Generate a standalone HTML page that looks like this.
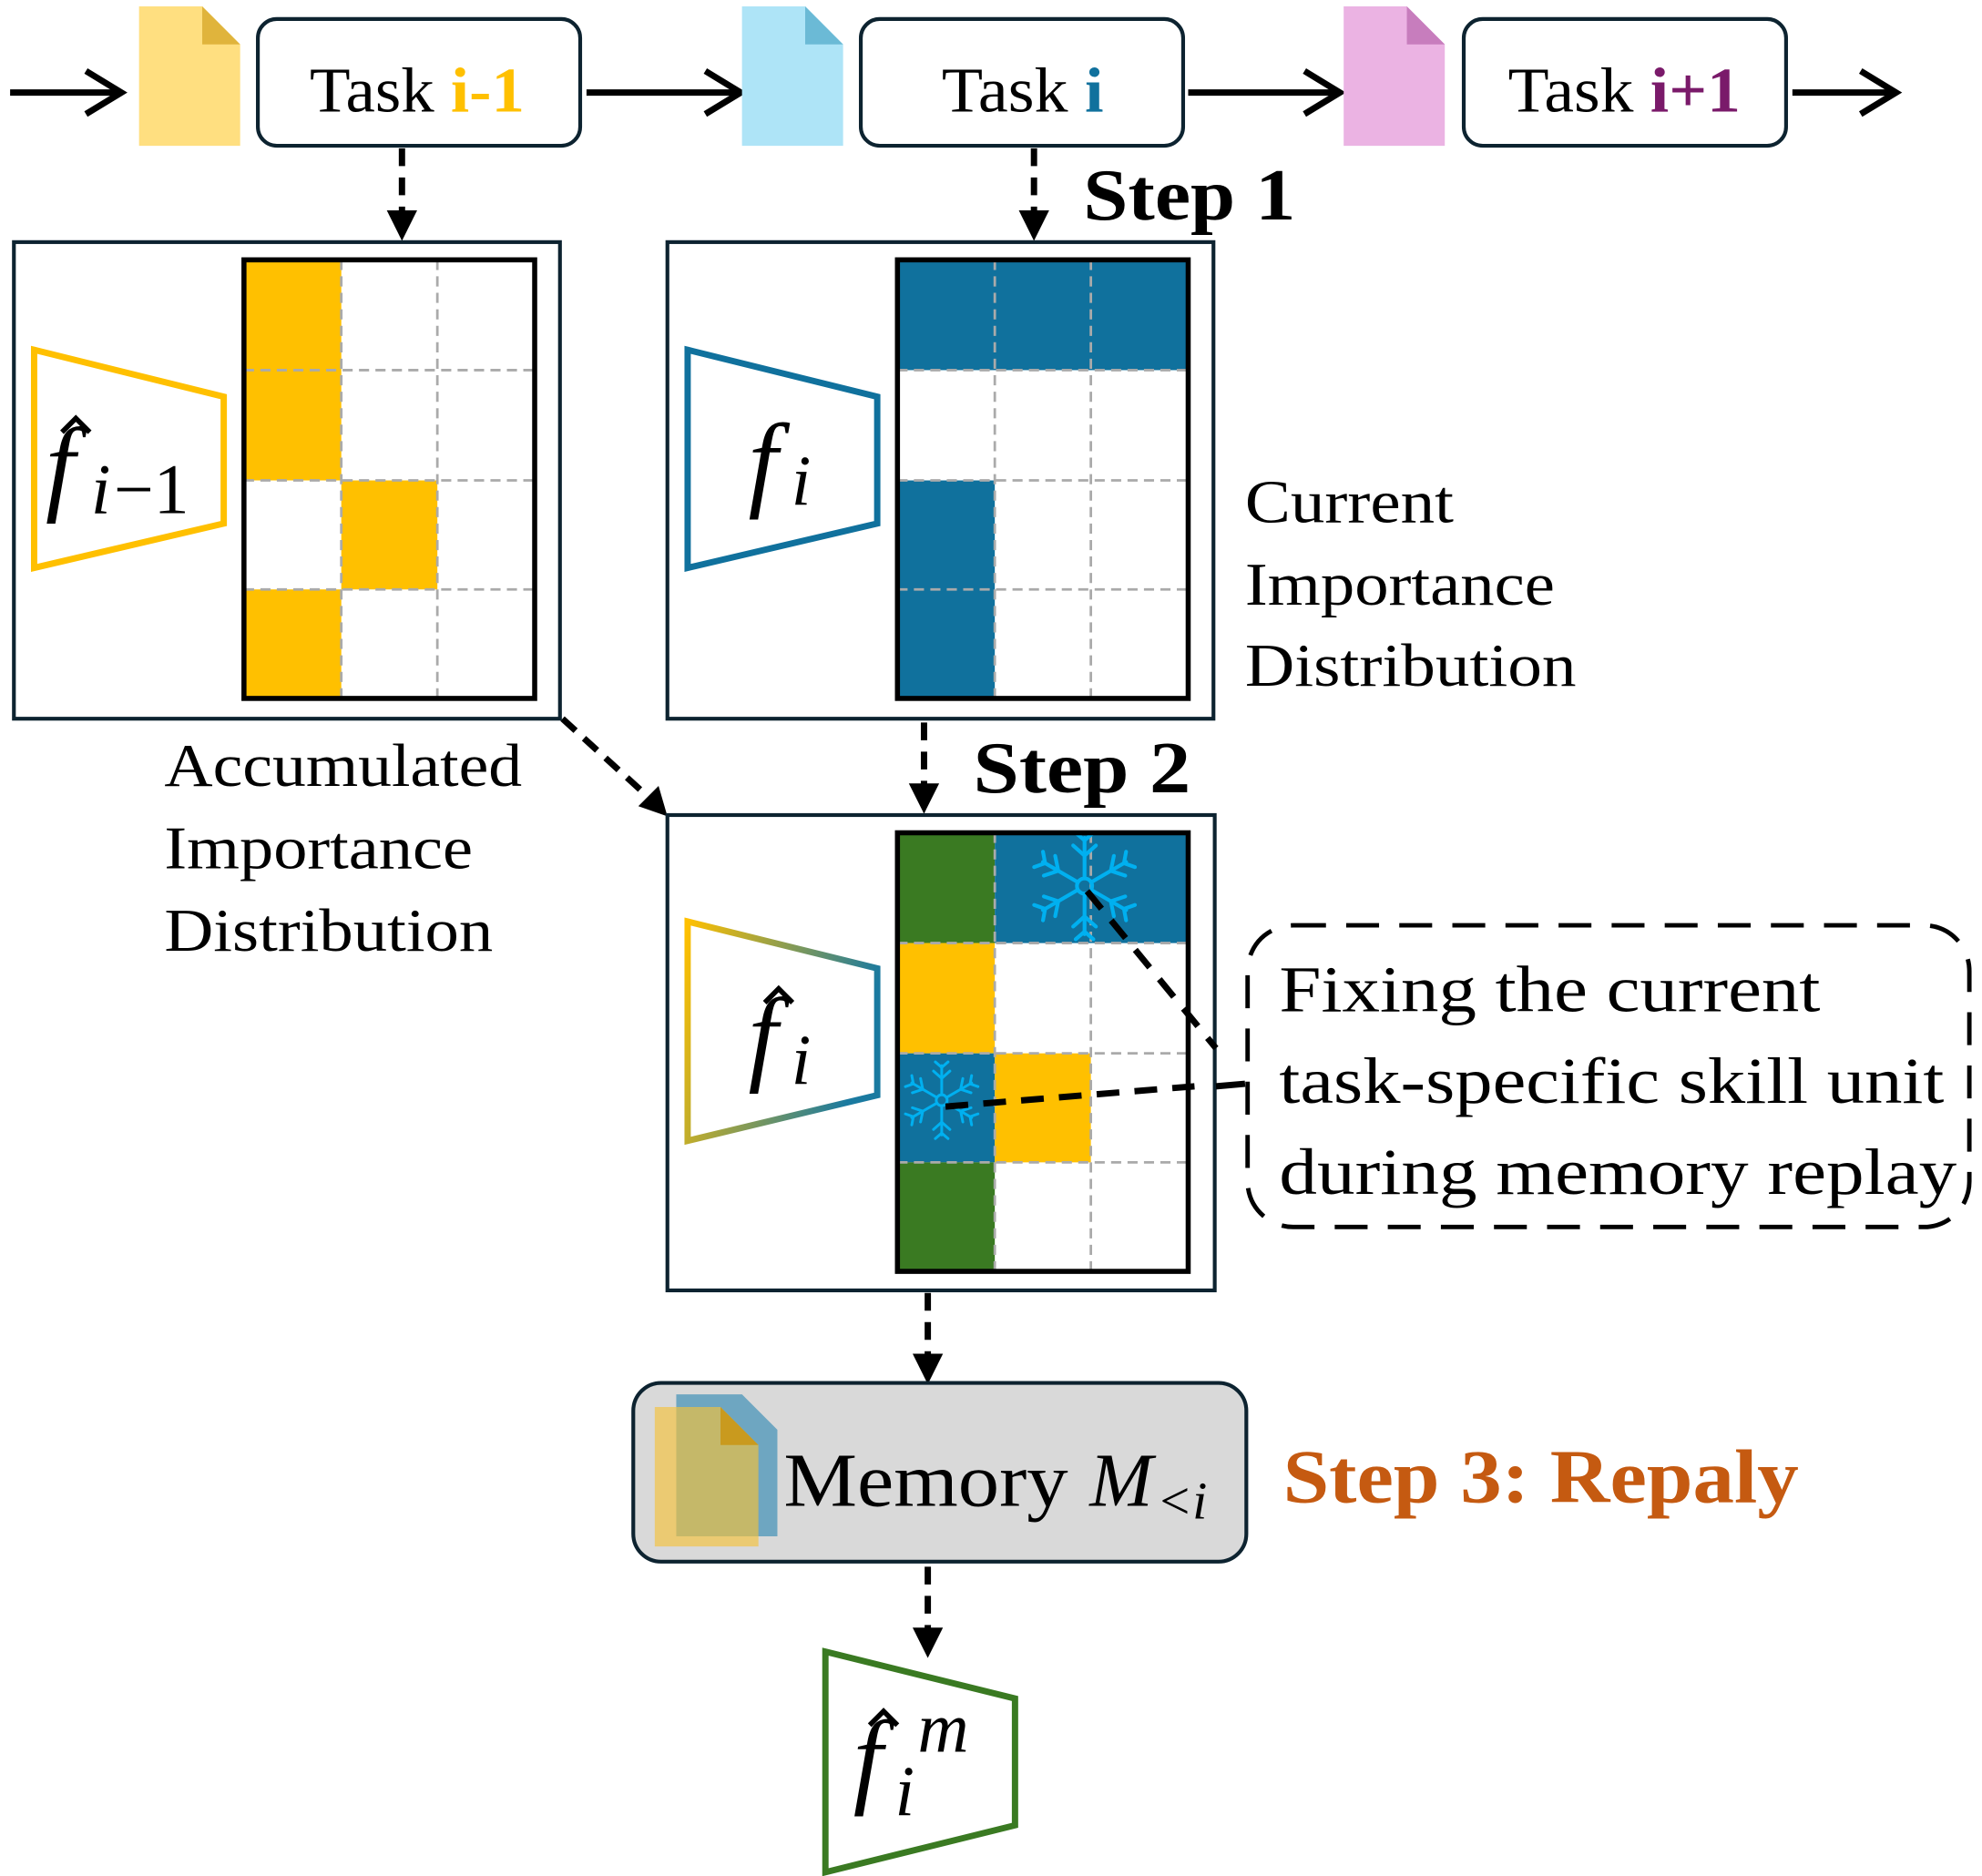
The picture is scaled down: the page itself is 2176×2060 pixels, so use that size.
<!DOCTYPE html>
<html><head><meta charset="utf-8"><style>
html,body{margin:0;padding:0;background:#fff;}
svg{display:block;}
text{font-family:"Liberation Serif",serif;}
</style></head><body>
<svg width="2176" height="2060" viewBox="0 0 1568 1480" preserveAspectRatio="none" xmlns="http://www.w3.org/2000/svg">
<defs>
<linearGradient id="gr" x1="0" y1="0" x2="1" y2="0.3">
<stop offset="0" stop-color="#FFC000"/><stop offset="1" stop-color="#1a7aa0"/>
</linearGradient>
<g id="snow" stroke="#00B0F0" stroke-width="3" fill="none" stroke-linecap="round">
<circle r="6"/>
<g id="arm"><line x1="0" y1="-6" x2="0" y2="-38"/><polyline points="-9,-32 0,-24 9,-32"/><polyline points="-7,-42 0,-36 7,-42"/></g>
<use href="#arm" transform="rotate(60)"/><use href="#arm" transform="rotate(120)"/><use href="#arm" transform="rotate(180)"/><use href="#arm" transform="rotate(240)"/><use href="#arm" transform="rotate(300)"/>
</g>
</defs>

<g stroke="#000" stroke-width="5" fill="none">
<line x1="8" y1="73" x2="96" y2="73"/><polyline points="68,56 96,73 68,90"/>
<line x1="464" y1="73" x2="586" y2="73"/><polyline points="558,56 586,73 558,90"/>
<line x1="940" y1="73" x2="1060" y2="73"/><polyline points="1032,56 1060,73 1032,90"/>
<line x1="1418" y1="73" x2="1500" y2="73"/><polyline points="1472,56 1500,73 1472,90"/>
</g>
<path d="M110,5 H160 L190,35 V115 H110 Z" fill="#FFDF80"/><path d="M160,5 L190,35 H160 Z" fill="#E0B43C"/>
<path d="M587,5 H637 L667,35 V115 H587 Z" fill="#AEE4F7"/><path d="M637,5 L667,35 H637 Z" fill="#6BBAD6"/>
<path d="M1063,5 H1113 L1143,35 V115 H1063 Z" fill="#EBB3E3"/><path d="M1113,5 L1143,35 H1113 Z" fill="#C77DBD"/>
<g fill="#fff" stroke="#0d2330" stroke-width="3">
<rect x="204" y="15" width="255" height="100" rx="15"/>
<rect x="681" y="15" width="255" height="100" rx="15"/>
<rect x="1158" y="15" width="255" height="100" rx="15"/>
</g>
<g font-size="50">
<text x="245" y="88" textLength="170" lengthAdjust="spacingAndGlyphs">Task <tspan fill="#FFC000" font-weight="bold">i-1</tspan></text>
<text x="745" y="88" textLength="128" lengthAdjust="spacingAndGlyphs">Task <tspan fill="#10719d" font-weight="bold">i</tspan></text>
<text x="1193" y="88" textLength="184" lengthAdjust="spacingAndGlyphs">Task <tspan fill="#7A1A6A" font-weight="bold">i+1</tspan></text>
</g>

<g stroke="#000" stroke-width="5" stroke-dasharray="14,9" fill="none">
<line x1="318" y1="117" x2="318" y2="170"/>
<line x1="818" y1="117" x2="818" y2="170"/>
<line x1="445" y1="567" x2="512" y2="628"/>
<line x1="731" y1="570" x2="731" y2="622"/>
<line x1="734" y1="1020" x2="734" y2="1072"/>
<line x1="734" y1="1236" x2="734" y2="1288"/>
</g>
<g fill="#000">
<polygon points="306,166 330,166 318,190"/>
<polygon points="806,166 830,166 818,190"/>
<polygon points="505,636 521,620 528,644"/>
<polygon points="719,618 743,618 731,642"/>
<polygon points="722,1068 746,1068 734,1092"/>
<polygon points="722,1284 746,1284 734,1308"/>
</g>

<text x="857" y="173" font-size="58" font-weight="bold" textLength="168" lengthAdjust="spacingAndGlyphs">Step 1</text>
<text x="770" y="625" font-size="58" font-weight="bold" textLength="172" lengthAdjust="spacingAndGlyphs">Step 2</text>

<g fill="#fff" stroke="#0d2330" stroke-width="3">
<rect x="11" y="191" width="432" height="376"/>
<rect x="528" y="191" width="432" height="376"/>
<rect x="528" y="643" width="433" height="375"/>
</g>

<g>
<rect x="193" y="205" width="77" height="174" fill="#FFC000"/>
<rect x="270" y="379" width="76" height="86" fill="#FFC000"/>
<rect x="193" y="465" width="77" height="86" fill="#FFC000"/>
<g stroke="#aaa" stroke-width="2" stroke-dasharray="8,5">
<line x1="270" y1="205" x2="270" y2="551"/><line x1="346" y1="205" x2="346" y2="551"/>
<line x1="193" y1="292" x2="423" y2="292"/><line x1="193" y1="379" x2="423" y2="379"/><line x1="193" y1="465" x2="423" y2="465"/>
</g>
<rect x="193" y="205" width="230" height="346" fill="none" stroke="#000" stroke-width="4"/>
</g>
<g>
<rect x="710" y="205" width="230" height="87" fill="#10719d"/>
<rect x="710" y="379" width="77" height="172" fill="#10719d"/>
<g stroke="#aaa" stroke-width="2" stroke-dasharray="8,5">
<line x1="787" y1="205" x2="787" y2="551"/><line x1="863" y1="205" x2="863" y2="551"/>
<line x1="710" y1="292" x2="940" y2="292"/><line x1="710" y1="379" x2="940" y2="379"/><line x1="710" y1="465" x2="940" y2="465"/>
</g>
<rect x="710" y="205" width="230" height="346" fill="none" stroke="#000" stroke-width="4"/>
</g>
<g>
<rect x="710" y="657" width="77" height="87" fill="#3A7A22"/>
<rect x="710" y="744" width="77" height="87" fill="#FFC000"/>
<rect x="710" y="831" width="77" height="86" fill="#10719d"/>
<rect x="710" y="917" width="77" height="86" fill="#3A7A22"/>
<rect x="787" y="657" width="153" height="87" fill="#10719d"/>
<rect x="787" y="831" width="76" height="86" fill="#FFC000"/>
<g stroke="#aaa" stroke-width="2" stroke-dasharray="8,5">
<line x1="787" y1="657" x2="787" y2="1003"/><line x1="863" y1="657" x2="863" y2="1003"/>
<line x1="710" y1="744" x2="940" y2="744"/><line x1="710" y1="831" x2="940" y2="831"/><line x1="710" y1="917" x2="940" y2="917"/>
</g>
<use href="#snow" transform="translate(858,699)"/>
<use href="#snow" transform="translate(745,868) scale(0.72)"/>
<rect x="710" y="657" width="230" height="346" fill="none" stroke="#000" stroke-width="4"/>
</g>

<polygon points="27,276 177,313 177,413 27,448" fill="#fff" stroke="#FFC000" stroke-width="5"/>
<polygon points="544,276 694,313 694,413 544,448" fill="#fff" stroke="#10719d" stroke-width="5"/>
<polygon points="544,727 694,764 694,864 544,900" fill="#fff" stroke="url(#gr)" stroke-width="5"/>
<polygon points="653,1303 803,1340 803,1440 653,1477" fill="#fff" stroke="#3A7A22" stroke-width="5"/>

<g fill="#000">
<text x="36" y="395" font-size="84" font-style="italic">f</text>
<path d="M49,341 L60,330 L71,341" stroke="#000" stroke-width="4" fill="none"/>
<text x="72" y="405" font-size="56" font-style="italic">i</text><text x="90" y="405" font-size="56">−1</text>
<text x="592" y="392" font-size="84" font-style="italic">f</text>
<text x="626" y="398" font-size="56" font-style="italic">i</text>
<text x="592" y="845" font-size="84" font-style="italic">f</text>
<path d="M605,791 L616,780 L627,791" stroke="#000" stroke-width="4" fill="none"/>
<text x="626" y="855" font-size="56" font-style="italic">i</text>
<text x="675" y="1415" font-size="84" font-style="italic">f</text>
<path d="M688,1361 L699,1350 L710,1361" stroke="#000" stroke-width="4" fill="none"/>
<text x="708" y="1432" font-size="56" font-style="italic">i</text>
<text x="726" y="1382" font-size="56" font-style="italic">m</text>
</g>

<g font-size="48">
<text x="985" y="412" textLength="165" lengthAdjust="spacingAndGlyphs">Current</text>
<text x="985" y="477" textLength="245" lengthAdjust="spacingAndGlyphs">Importance</text>
<text x="985" y="541" textLength="262" lengthAdjust="spacingAndGlyphs">Distribution</text>
<text x="130" y="620" textLength="283" lengthAdjust="spacingAndGlyphs">Accumulated</text>
<text x="130" y="685" textLength="244" lengthAdjust="spacingAndGlyphs">Importance</text>
<text x="130" y="750" textLength="260" lengthAdjust="spacingAndGlyphs">Distribution</text>
</g>

<g stroke="#000" stroke-width="5" stroke-dasharray="18,12" fill="none">
<line x1="860" y1="703" x2="962" y2="827"/>
<line x1="748" y1="873" x2="945" y2="857"/>
</g>
<polyline points="962,857 985,855" stroke="#000" stroke-width="5" fill="none"/>
<rect x="987" y="730" width="571" height="238" rx="36" fill="none" stroke="#000" stroke-width="3.5" stroke-dasharray="26,16"/>
<g font-size="52">
<text x="1012" y="798" textLength="428" lengthAdjust="spacingAndGlyphs">Fixing the current</text>
<text x="1012" y="870" textLength="526" lengthAdjust="spacingAndGlyphs">task-specific skill unit</text>
<text x="1012" y="942" textLength="536" lengthAdjust="spacingAndGlyphs">during memory replay</text>
</g>

<rect x="501" y="1091" width="485" height="141" rx="22" fill="#d9d9d9" stroke="#0d2330" stroke-width="3"/>
<path d="M535,1100 H587 L615,1128 V1212 H535 Z" fill="#4A94B8" opacity="0.75"/>
<path d="M518,1110 H570 L600,1140 V1220 H518 Z" fill="#F5C23A" opacity="0.65"/>
<path d="M570,1110 L600,1140 H570 Z" fill="#C99A1E"/>
<text x="620" y="1188" font-size="60" textLength="225" lengthAdjust="spacingAndGlyphs">Memory</text>
<text x="862" y="1188" font-size="60" font-style="italic">M</text>
<text x="915" y="1198" font-size="42" font-style="italic">&lt;i</text>
<text x="1015" y="1185" font-size="60" font-weight="bold" fill="#C55A11" textLength="408" lengthAdjust="spacingAndGlyphs">Step 3: Repaly</text>
</svg>
</body></html>
